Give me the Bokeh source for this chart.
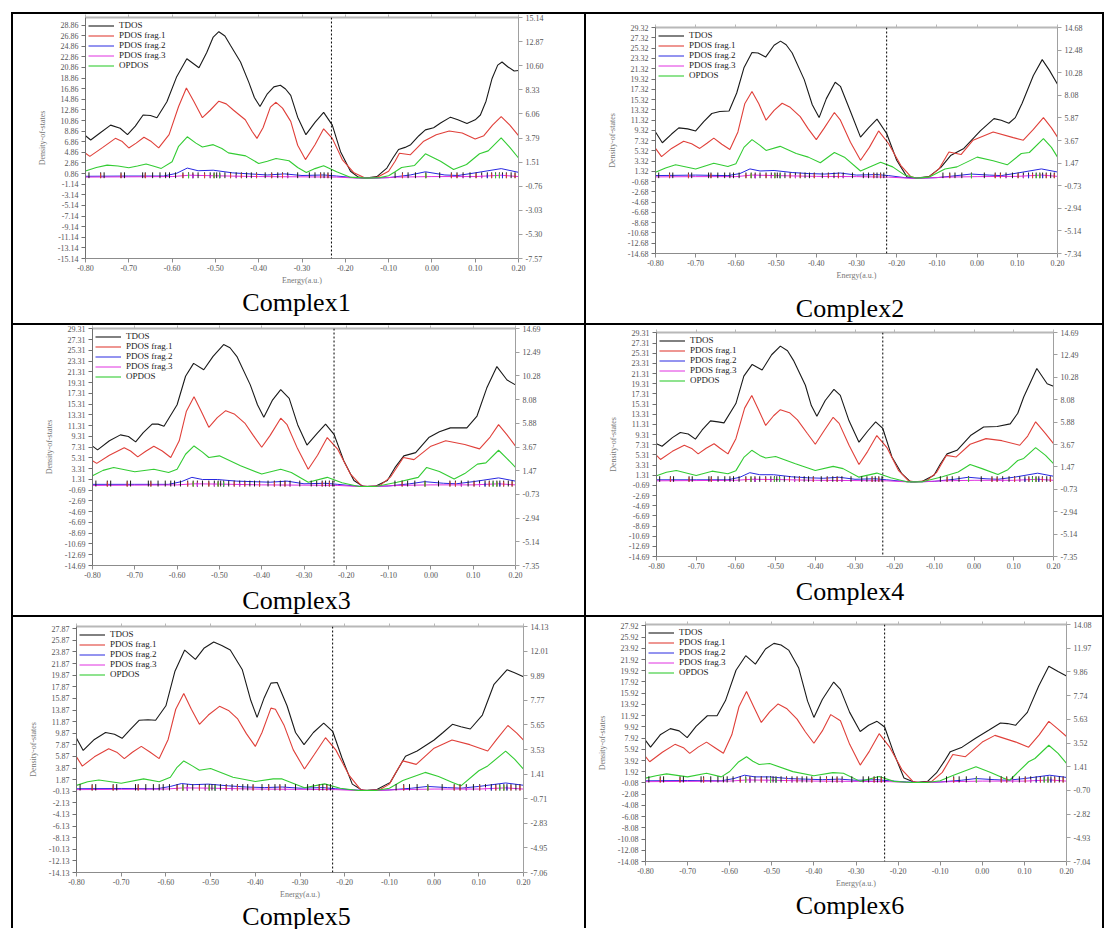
import numpy as np
from bokeh.plotting import figure
from bokeh.models import (Range1d, LinearAxis, FixedTicker, NumeralTickFormatter,
                          Span, Legend, LegendItem, ColumnDataSource, Div)
from bokeh.layouts import row, column
from bokeh.embed import file_html
from bokeh.resources import INLINE

# ------------------------------------------------------------------ data
LEGEND_LABELS = ["TDOS", "PDOS frag.1", "PDOS frag.2", "PDOS frag.3", "OPDOS"]
CAPTIONS = ["Complex1", "Complex2", "Complex3", "Complex4", "Complex5", "Complex6"]
X_TICKS = [-0.80, -0.70, -0.60, -0.50, -0.40, -0.30, -0.20, -0.10, 0.00, 0.10, 0.20]
LEFT_AXIS_MIN = [-15.14, -14.68, -14.69, -14.69, -14.13, -14.08]
RIGHT_LABELS = [
    ["-7.57", "-5.30", "-3.03", "-0.76", "1.51", "3.79", "6.06", "8.33", "10.60", "12.87", "15.14"],
    ["-7.34", "-5.14", "-2.94", "-0.73", "1.47", "3.67", "5.87", "8.08", "10.28", "12.48", "14.68"],
    ["-7.35", "-5.14", "-2.94", "-0.73", "1.47", "3.67", "5.88", "8.08", "10.28", "12.49", "14.69"],
    ["-7.35", "-5.14", "-2.94", "-0.73", "1.47", "3.67", "5.88", "8.08", "10.28", "12.49", "14.69"],
    ["-7.06", "-4.95", "-2.83", "-0.71", "1.41", "3.53", "5.65", "7.77", "9.89", "12.01", "14.13"],
    ["-7.04", "-4.93", "-2.82", "-0.70", "1.41", "3.52", "5.63", "7.74", "9.86", "11.97", "14.08"],
]
HOMO = [-0.232, -0.225, -0.229, -0.230, -0.227, -0.232]

C1_TDOS = [(-0.80, 8.0), (-0.788, 7.2), (-0.765, 8.6), (-0.742, 10.0), (-0.72, 9.4), (-0.703, 8.2),
           (-0.685, 9.8), (-0.667, 11.9), (-0.65, 11.8), (-0.635, 11.4), (-0.612, 14.4), (-0.59, 19.0),
           (-0.566, 22.5), (-0.538, 20.8), (-0.52, 23.7), (-0.505, 26.6), (-0.492, 27.6), (-0.478, 26.8),
           (-0.465, 25.0), (-0.442, 21.9), (-0.423, 18.1), (-0.41, 15.2), (-0.397, 13.5), (-0.38, 15.9),
           (-0.365, 17.2), (-0.35, 17.5), (-0.338, 16.8), (-0.326, 15.6), (-0.31, 11.5), (-0.291, 8.2),
           (-0.27, 10.5), (-0.25, 12.4), (-0.23, 10.0), (-0.211, 5.0), (-0.188, 1.3), (-0.17, 0.2),
           (-0.153, 0.0), (-0.127, 0.3), (-0.104, 1.9), (-0.09, 3.8), (-0.077, 5.4), (-0.062, 5.8),
           (-0.049, 6.3), (-0.03, 8.0), (-0.015, 9.1), (0.004, 9.5), (0.02, 10.4), (0.043, 11.5),
           (0.06, 11.0), (0.081, 10.3), (0.10, 11.0), (0.112, 11.9), (0.125, 14.5), (0.139, 18.8),
           (0.152, 21.3), (0.162, 21.9), (0.175, 21.0), (0.19, 20.2), (0.20, 20.3)]
C1_FRAG1 = [(-0.80, 4.7), (-0.79, 4.1), (-0.76, 5.8), (-0.731, 7.5), (-0.715, 6.9), (-0.70, 5.7),
            (-0.683, 6.6), (-0.665, 7.7), (-0.648, 6.9), (-0.631, 5.7), (-0.607, 8.2), (-0.585, 13.5),
            (-0.567, 17.0), (-0.55, 14.5), (-0.53, 11.4), (-0.512, 12.8), (-0.492, 14.5), (-0.475, 14.0),
            (-0.458, 12.8), (-0.431, 11.0), (-0.415, 8.8), (-0.404, 7.5), (-0.39, 9.5), (-0.373, 13.4),
            (-0.36, 14.3), (-0.345, 13.2), (-0.326, 10.7), (-0.31, 6.2), (-0.292, 3.5), (-0.27, 6.3),
            (-0.25, 9.3), (-0.23, 7.5), (-0.207, 3.5), (-0.18, 1.0), (-0.153, 0.0), (-0.125, 0.2),
            (-0.10, 1.3), (-0.085, 3.2), (-0.075, 4.7), (-0.05, 4.4), (-0.02, 6.9), (0.01, 8.2),
            (0.04, 8.9), (0.07, 8.5), (0.10, 7.4), (0.12, 8.0), (0.14, 10.0), (0.16, 11.6),
            (0.18, 10.0), (0.20, 8.0)]
C1_OPDOS = [(-0.80, 0.67), (-0.775, 1.0), (-0.75, 1.23), (-0.725, 1.15), (-0.70, 0.98), (-0.68, 1.15),
            (-0.66, 1.33), (-0.64, 1.1), (-0.625, 0.92), (-0.60, 1.54), (-0.585, 3.0), (-0.565, 3.9),
            (-0.545, 3.3), (-0.53, 2.94), (-0.505, 3.16), (-0.485, 2.8), (-0.47, 2.38), (-0.43, 2.1),
            (-0.40, 1.38), (-0.38, 1.6), (-0.36, 1.85), (-0.33, 1.64), (-0.31, 1.0), (-0.29, 0.54),
            (-0.27, 0.9), (-0.25, 1.17), (-0.22, 0.6), (-0.19, 0.1), (-0.15, 0.0), (-0.12, 0.05),
            (-0.10, 0.23), (-0.085, 0.6), (-0.07, 1.0), (-0.04, 1.2), (-0.015, 2.3), (0.02, 1.6),
            (0.05, 0.82), (0.08, 1.29), (0.11, 2.3), (0.13, 2.57), (0.16, 3.8), (0.18, 2.9), (0.20, 1.9)]

C2_TDOS = [(-0.80, 9.0), (-0.783, 6.9), (-0.76, 8.6), (-0.742, 9.8), (-0.72, 9.6), (-0.70, 9.2),
           (-0.68, 11.0), (-0.66, 12.6), (-0.64, 13.0), (-0.617, 13.1), (-0.598, 16.6), (-0.58, 21.5),
           (-0.56, 24.5), (-0.545, 24.4), (-0.526, 23.6), (-0.505, 25.9), (-0.489, 26.7), (-0.475, 26.0),
           (-0.46, 24.4), (-0.43, 19.2), (-0.41, 14.3), (-0.393, 11.8), (-0.375, 15.5), (-0.353, 18.7),
           (-0.34, 17.9), (-0.315, 13.0), (-0.29, 8.0), (-0.27, 9.8), (-0.249, 11.5), (-0.225, 8.7),
           (-0.20, 3.5), (-0.174, 0.2), (-0.15, 0.0), (-0.12, 0.3), (-0.09, 2.1), (-0.066, 4.4),
           (-0.033, 5.8), (0.008, 9.2), (0.042, 11.6), (0.06, 11.3), (0.079, 10.7), (0.095, 11.8),
           (0.112, 14.6), (0.14, 20.0), (0.162, 23.1), (0.18, 21.0), (0.20, 18.3)]
C2_FRAG1 = [(-0.80, 5.8), (-0.785, 4.2), (-0.76, 5.8), (-0.73, 7.2), (-0.71, 6.7), (-0.69, 5.8),
            (-0.672, 6.8), (-0.655, 7.8), (-0.635, 6.6), (-0.615, 5.6), (-0.595, 9.0), (-0.578, 14.5),
            (-0.56, 16.9), (-0.543, 14.5), (-0.525, 11.3), (-0.505, 13.2), (-0.485, 14.6), (-0.465, 13.8),
            (-0.44, 12.0), (-0.42, 9.6), (-0.40, 7.5), (-0.38, 9.8), (-0.355, 12.8), (-0.34, 11.3),
            (-0.315, 7.0), (-0.29, 3.5), (-0.268, 6.0), (-0.245, 9.2), (-0.22, 6.7), (-0.19, 2.5),
            (-0.165, 0.3), (-0.15, 0.0), (-0.12, 0.2), (-0.095, 1.8), (-0.07, 5.1), (-0.04, 4.6),
            (-0.01, 7.4), (0.04, 9.0), (0.09, 7.9), (0.115, 7.4), (0.14, 9.5), (0.165, 11.8),
            (0.185, 9.8), (0.20, 8.0)]
C2_OPDOS = [(-0.80, 0.58), (-0.775, 1.0), (-0.75, 1.3), (-0.70, 0.9), (-0.655, 1.46), (-0.62, 1.14),
            (-0.60, 1.4), (-0.58, 3.0), (-0.56, 3.76), (-0.54, 3.2), (-0.525, 2.7), (-0.49, 3.1),
            (-0.45, 2.4), (-0.42, 2.05), (-0.39, 1.5), (-0.355, 2.5), (-0.33, 2.05), (-0.29, 0.7),
            (-0.24, 1.56), (-0.21, 1.1), (-0.18, 0.3), (-0.15, 0.0), (-0.12, 0.1), (-0.08, 0.9),
            (-0.05, 1.1), (0.0, 2.05), (0.04, 1.7), (0.075, 1.3), (0.11, 2.4), (0.13, 2.5),
            (0.165, 3.86), (0.185, 3.0), (0.20, 2.05)]

C3_TDOS = [(-0.80, 7.5), (-0.788, 6.8), (-0.76, 8.5), (-0.734, 9.6), (-0.715, 9.3), (-0.698, 8.3),
           (-0.68, 10.0), (-0.659, 11.6), (-0.645, 11.6), (-0.631, 11.2), (-0.60, 15.2), (-0.58, 20.5),
           (-0.561, 22.9), (-0.537, 21.7), (-0.515, 24.2), (-0.49, 26.4), (-0.475, 25.8), (-0.458, 24.1),
           (-0.427, 18.9), (-0.41, 15.2), (-0.395, 12.9), (-0.375, 16.0), (-0.355, 18.0), (-0.335, 16.4),
           (-0.315, 11.5), (-0.293, 7.7), (-0.27, 9.8), (-0.249, 11.6), (-0.229, 9.7), (-0.206, 4.8),
           (-0.182, 1.1), (-0.16, 0.0), (-0.13, 0.1), (-0.103, 1.1), (-0.085, 3.5), (-0.064, 5.7),
           (-0.036, 6.3), (-0.005, 9.1), (0.02, 10.2), (0.046, 10.9), (0.085, 10.9), (0.109, 13.1),
           (0.132, 18.3), (0.156, 22.3), (0.18, 19.8), (0.20, 18.9)]
C3_FRAG1 = [(-0.80, 4.8), (-0.79, 4.3), (-0.76, 5.8), (-0.725, 7.2), (-0.71, 6.6), (-0.693, 5.5),
            (-0.675, 6.5), (-0.655, 7.5), (-0.635, 6.6), (-0.615, 5.4), (-0.595, 8.5), (-0.578, 14.0),
            (-0.56, 16.7), (-0.543, 14.0), (-0.525, 11.0), (-0.505, 12.8), (-0.485, 14.1), (-0.465, 13.5),
            (-0.44, 11.8), (-0.42, 9.5), (-0.40, 7.3), (-0.38, 9.5), (-0.355, 12.7), (-0.34, 11.5),
            (-0.315, 7.0), (-0.29, 3.2), (-0.268, 5.8), (-0.245, 9.1), (-0.22, 6.9), (-0.19, 2.3),
            (-0.165, 0.2), (-0.15, 0.0), (-0.12, 0.2), (-0.095, 1.8), (-0.065, 5.4), (-0.04, 5.0),
            (0.0, 7.5), (0.035, 8.5), (0.08, 7.8), (0.115, 7.0), (0.14, 9.2), (0.16, 11.5),
            (0.18, 9.6), (0.20, 7.5)]
C3_OPDOS = [(-0.80, 1.0), (-0.775, 1.5), (-0.75, 1.77), (-0.70, 1.37), (-0.655, 1.6), (-0.62, 1.3),
            (-0.60, 1.6), (-0.58, 3.0), (-0.56, 3.77), (-0.54, 3.2), (-0.525, 2.7), (-0.50, 2.85),
            (-0.45, 1.92), (-0.40, 1.16), (-0.355, 1.6), (-0.33, 1.3), (-0.29, 0.4), (-0.245, 0.85),
            (-0.21, 0.35), (-0.17, 0.0), (-0.13, 0.0), (-0.08, 0.4), (-0.03, 0.85), (-0.01, 1.77),
            (0.02, 1.4), (0.055, 0.7), (0.08, 1.2), (0.11, 2.08), (0.13, 2.2), (0.16, 3.37),
            (0.18, 2.6), (0.20, 1.77)]

C4_TDOS = [(-0.80, 7.5), (-0.786, 7.0), (-0.76, 8.7), (-0.74, 9.7), (-0.72, 9.4), (-0.702, 8.4),
           (-0.685, 10.2), (-0.664, 12.0), (-0.645, 11.8), (-0.63, 11.6), (-0.60, 15.4), (-0.58, 20.8),
           (-0.559, 23.1), (-0.534, 22.0), (-0.51, 25.0), (-0.488, 26.7), (-0.47, 25.8), (-0.455, 23.9),
           (-0.425, 19.0), (-0.41, 15.0), (-0.396, 12.9), (-0.375, 16.0), (-0.353, 18.2), (-0.337, 17.0),
           (-0.315, 12.0), (-0.29, 7.8), (-0.268, 10.0), (-0.248, 11.8), (-0.23, 10.5), (-0.207, 4.9),
           (-0.182, 1.6), (-0.16, 0.0), (-0.13, 0.1), (-0.101, 1.3), (-0.085, 3.5), (-0.068, 5.5),
           (-0.043, 6.2), (-0.009, 9.1), (0.024, 10.8), (0.058, 10.9), (0.091, 11.4), (0.11, 13.5),
           (0.125, 16.7), (0.158, 22.3), (0.184, 19.3), (0.20, 18.8)]
C4_FRAG1 = [(-0.80, 5.2), (-0.79, 4.4), (-0.76, 6.0), (-0.73, 7.2), (-0.71, 6.5), (-0.695, 5.5),
            (-0.675, 6.6), (-0.655, 7.5), (-0.64, 6.6), (-0.62, 5.5), (-0.60, 8.5), (-0.578, 14.5),
            (-0.56, 17.0), (-0.543, 14.2), (-0.525, 11.1), (-0.505, 13.0), (-0.488, 14.2), (-0.465, 13.6),
            (-0.445, 12.2), (-0.42, 9.5), (-0.40, 7.4), (-0.38, 9.8), (-0.355, 12.7), (-0.34, 11.5),
            (-0.315, 7.2), (-0.29, 3.4), (-0.268, 6.0), (-0.245, 9.1), (-0.22, 6.8), (-0.19, 2.2),
            (-0.165, 0.2), (-0.15, 0.0), (-0.12, 0.2), (-0.095, 1.8), (-0.07, 5.2), (-0.045, 4.9),
            (-0.01, 7.4), (0.03, 8.5), (0.07, 8.1), (0.115, 7.2), (0.135, 9.0), (0.155, 11.8),
            (0.18, 9.5), (0.20, 7.5)]
C4_OPDOS = [(-0.80, 0.6), (-0.775, 0.95), (-0.75, 1.12), (-0.70, 0.63), (-0.66, 1.05), (-0.62, 0.8),
            (-0.60, 1.1), (-0.58, 2.4), (-0.56, 3.1), (-0.54, 2.6), (-0.525, 2.34), (-0.50, 2.5),
            (-0.45, 1.78), (-0.40, 1.12), (-0.355, 1.52), (-0.33, 1.3), (-0.29, 0.46), (-0.245, 0.86),
            (-0.21, 0.4), (-0.17, 0.0), (-0.13, 0.0), (-0.08, 0.5), (-0.04, 0.96), (-0.01, 1.7),
            (0.02, 1.3), (0.06, 0.73), (0.085, 1.2), (0.11, 2.1), (0.125, 2.3), (0.155, 3.36),
            (0.18, 2.6), (0.20, 1.78)]

C5_TDOS = [(-0.80, 9.0), (-0.785, 6.9), (-0.76, 8.8), (-0.735, 10.0), (-0.715, 9.7), (-0.698, 9.0),
           (-0.68, 10.5), (-0.66, 12.1), (-0.64, 12.2), (-0.623, 12.1), (-0.60, 14.6), (-0.58, 20.5),
           (-0.558, 24.2), (-0.534, 22.6), (-0.515, 24.5), (-0.493, 25.6), (-0.475, 25.0), (-0.456, 24.2),
           (-0.429, 20.8), (-0.41, 15.5), (-0.396, 12.6), (-0.38, 16.0), (-0.365, 18.5), (-0.351, 18.6),
           (-0.329, 14.6), (-0.31, 10.0), (-0.291, 7.9), (-0.27, 10.0), (-0.247, 11.6), (-0.227, 10.2),
           (-0.206, 5.6), (-0.183, 1.1), (-0.16, 0.0), (-0.13, 0.1), (-0.098, 1.4), (-0.08, 3.8),
           (-0.064, 5.9), (-0.038, 6.8), (0.0, 8.7), (0.02, 10.0), (0.041, 11.4), (0.06, 11.0),
           (0.081, 10.6), (0.108, 13.0), (0.134, 18.3), (0.163, 20.8), (0.18, 20.3), (0.20, 19.6)]
C5_FRAG1 = [(-0.80, 5.8), (-0.787, 4.2), (-0.76, 5.8), (-0.728, 7.2), (-0.71, 6.6), (-0.693, 5.5),
            (-0.675, 6.6), (-0.655, 7.6), (-0.635, 6.6), (-0.615, 5.5), (-0.595, 8.8), (-0.578, 14.0),
            (-0.56, 16.7), (-0.543, 14.0), (-0.525, 11.4), (-0.505, 13.0), (-0.48, 14.5), (-0.46, 13.8),
            (-0.44, 12.4), (-0.42, 9.8), (-0.40, 7.6), (-0.385, 10.0), (-0.365, 14.2), (-0.355, 14.0),
            (-0.336, 11.3), (-0.315, 7.0), (-0.29, 3.7), (-0.268, 6.2), (-0.243, 9.1), (-0.22, 7.0),
            (-0.19, 2.6), (-0.165, 0.2), (-0.15, 0.0), (-0.12, 0.2), (-0.10, 1.1), (-0.085, 3.2),
            (-0.07, 5.1), (-0.04, 4.5), (0.0, 7.3), (0.04, 8.7), (0.08, 7.9), (0.12, 6.8),
            (0.14, 8.8), (0.165, 11.2), (0.185, 9.9), (0.20, 8.7)]
C5_OPDOS = [(-0.80, 0.44), (-0.775, 0.75), (-0.75, 0.91), (-0.70, 0.63), (-0.65, 1.0), (-0.615, 0.76),
            (-0.59, 1.14), (-0.575, 2.0), (-0.56, 2.55), (-0.54, 2.1), (-0.525, 1.75), (-0.50, 1.9),
            (-0.45, 1.14), (-0.40, 0.78), (-0.36, 1.0), (-0.34, 1.0), (-0.29, 0.24), (-0.245, 0.57),
            (-0.21, 0.2), (-0.17, 0.0), (-0.13, 0.0), (-0.10, 0.2), (-0.07, 0.86), (-0.02, 1.56),
            (0.01, 1.2), (0.04, 0.72), (0.06, 0.4), (0.10, 1.7), (0.12, 2.12), (0.16, 3.39),
            (0.18, 2.7), (0.20, 1.84)]

C6_TDOS = [(-0.80, 7.5), (-0.788, 6.3), (-0.765, 8.5), (-0.741, 9.6), (-0.72, 9.2), (-0.701, 8.0),
           (-0.68, 10.0), (-0.653, 11.9), (-0.63, 11.9), (-0.61, 14.6), (-0.585, 20.0), (-0.562, 22.6),
           (-0.539, 21.1), (-0.515, 23.8), (-0.495, 24.8), (-0.478, 24.5), (-0.46, 23.6), (-0.436, 20.4),
           (-0.415, 14.5), (-0.40, 11.6), (-0.38, 14.8), (-0.353, 17.9), (-0.337, 16.6), (-0.315, 12.5),
           (-0.29, 9.1), (-0.27, 10.2), (-0.25, 10.9), (-0.232, 9.9), (-0.21, 5.2), (-0.186, 0.8),
           (-0.16, 0.0), (-0.13, 0.2), (-0.109, 1.7), (-0.09, 3.8), (-0.076, 5.5), (-0.048, 6.3),
           (-0.016, 7.9), (0.015, 9.3), (0.043, 10.6), (0.06, 10.5), (0.079, 10.2), (0.107, 12.5),
           (0.134, 17.2), (0.158, 20.7), (0.18, 19.8), (0.20, 19.0)]
C6_FRAG1 = [(-0.80, 4.6), (-0.79, 3.7), (-0.76, 5.4), (-0.73, 6.8), (-0.71, 6.2), (-0.695, 5.2),
            (-0.675, 6.3), (-0.655, 7.2), (-0.635, 6.2), (-0.615, 5.2), (-0.595, 8.5), (-0.578, 13.5),
            (-0.56, 16.2), (-0.543, 13.5), (-0.525, 10.7), (-0.505, 12.6), (-0.485, 14.0), (-0.465, 13.2),
            (-0.44, 11.3), (-0.42, 9.0), (-0.40, 7.0), (-0.38, 9.2), (-0.36, 12.1), (-0.337, 11.0),
            (-0.315, 6.8), (-0.29, 3.1), (-0.268, 5.6), (-0.245, 8.7), (-0.22, 6.3), (-0.19, 2.2),
            (-0.165, 0.2), (-0.15, 0.0), (-0.12, 0.2), (-0.095, 1.8), (-0.07, 5.0), (-0.04, 4.6),
            (0.0, 7.2), (0.03, 8.4), (0.08, 7.2), (0.11, 6.3), (0.135, 8.5), (0.158, 10.9),
            (0.18, 9.5), (0.20, 8.2)]
C6_OPDOS = [(-0.80, 0.39), (-0.775, 0.6), (-0.75, 0.77), (-0.70, 0.5), (-0.655, 0.83), (-0.62, 0.5),
            (-0.60, 0.98), (-0.58, 1.8), (-0.56, 2.29), (-0.545, 1.9), (-0.53, 1.6), (-0.505, 1.7),
            (-0.45, 0.97), (-0.40, 0.6), (-0.355, 0.88), (-0.33, 0.83), (-0.29, 0.1), (-0.245, 0.53),
            (-0.21, 0.1), (-0.17, 0.0), (-0.13, 0.0), (-0.10, 0.15), (-0.07, 0.62), (-0.015, 1.41),
            (0.02, 0.9), (0.05, 0.39), (0.065, 0.2), (0.11, 1.85), (0.125, 2.14), (0.158, 3.32),
            (0.18, 2.6), (0.20, 1.7)]

FRAG2_E = [-0.80, -0.70, -0.62, -0.59, -0.565, -0.54, -0.505, -0.46, -0.42, -0.38, -0.34, -0.30,
           -0.25, -0.22, -0.18, -0.15, -0.10, -0.05, -0.015, 0.03, 0.06, 0.10, 0.16, 0.20]
C1_FRAG2 = [0.35, 0.4, 0.4, 0.9, 1.9, 1.4, 1.5, 1.0, 0.8, 0.6, 0.8, 0.5, 0.6, 0.4, 0.1, 0.0, 0.1, 0.6, 1.2, 0.6, 0.5, 1.0, 1.8, 1.1]
C2_FRAG2 = [0.5, 0.6, 0.5, 0.9, 1.8, 1.4, 1.5, 1.1, 0.9, 0.8, 1.0, 0.6, 0.7, 0.5, 0.1, 0.0, 0.1, 0.5, 0.8, 0.6, 0.5, 1.0, 1.8, 1.2]
C3_FRAG2 = [0.4, 0.4, 0.4, 0.9, 1.7, 1.3, 1.3, 1.0, 0.9, 0.8, 1.0, 0.5, 0.6, 0.4, 0.1, 0.0, 0.1, 0.5, 0.9, 0.6, 0.5, 0.9, 1.6, 1.0]
C4_FRAG2 = [0.4, 0.4, 0.4, 0.9, 1.8, 1.4, 1.4, 1.0, 0.8, 0.7, 0.9, 0.5, 0.6, 0.4, 0.1, 0.0, 0.1, 0.5, 0.9, 0.6, 0.5, 0.9, 1.7, 1.1]
C5_FRAG2 = [0.3, 0.35, 0.3, 0.7, 1.2, 1.0, 1.1, 0.8, 0.6, 0.5, 0.6, 0.4, 0.5, 0.3, 0.1, 0.0, 0.1, 0.4, 0.7, 0.5, 0.4, 0.7, 1.3, 0.9]
C6_FRAG2 = [0.3, 0.35, 0.3, 0.7, 1.3, 1.0, 1.0, 0.7, 0.6, 0.5, 0.6, 0.4, 0.5, 0.3, 0.1, 0.0, 0.1, 0.4, 0.7, 0.5, 0.4, 0.7, 1.3, 0.9]

FRAG3_E = [-0.80, -0.70, -0.60, -0.56, -0.50, -0.40, -0.30, -0.22, -0.17, -0.13, -0.08, 0.00, 0.10, 0.16, 0.20]
C1_FRAG3 = [0.2, 0.25, 0.3, 0.55, 0.45, 0.3, 0.25, 0.2, 0.0, 0.0, 0.2, 0.3, 0.3, 0.55, 0.3]
C2_FRAG3 = [0.25, 0.3, 0.3, 0.6, 0.5, 0.35, 0.3, 0.2, 0.0, 0.0, 0.2, 0.3, 0.35, 0.6, 0.35]
C3_FRAG3 = [0.2, 0.25, 0.3, 0.5, 0.45, 0.3, 0.25, 0.2, 0.0, 0.0, 0.2, 0.3, 0.3, 0.5, 0.3]
C4_FRAG3 = [0.2, 0.25, 0.3, 0.5, 0.45, 0.3, 0.25, 0.2, 0.0, 0.0, 0.2, 0.3, 0.3, 0.5, 0.3]
C5_FRAG3 = [0.15, 0.2, 0.25, 0.45, 0.4, 0.25, 0.2, 0.15, 0.0, 0.0, 0.15, 0.25, 0.25, 0.45, 0.25]
C6_FRAG3 = [0.15, 0.2, 0.25, 0.45, 0.4, 0.25, 0.2, 0.15, 0.0, 0.0, 0.15, 0.25, 0.25, 0.45, 0.25]

# discrete orbital levels (sticks at the bottom)
MO_TDOS = [-0.792, -0.765, -0.757, -0.718, -0.71, -0.668, -0.662, -0.645, -0.628, -0.615, -0.606,
           -0.592, -0.575, -0.562, -0.552, -0.54, -0.525, -0.512, -0.503, -0.497, -0.49, -0.478,
           -0.465, -0.452, -0.44, -0.428, -0.417, -0.405, -0.385, -0.37, -0.356, -0.345, -0.333,
           -0.31, -0.283, -0.27, -0.257, -0.249, -0.24, -0.232, -0.085, -0.068, -0.055, -0.038,
           -0.014, 0.018, 0.045, 0.058, 0.072, 0.088, 0.102, 0.115, 0.128, 0.138, 0.147, 0.156,
           0.163, 0.172, 0.183, 0.192]
MO_FRAG1 = [-0.765, -0.718, -0.662, -0.575, -0.562, -0.552, -0.525, -0.503, -0.49, -0.465, -0.44,
            -0.405, -0.37, -0.345, -0.257, -0.24, -0.068, -0.014, 0.045, 0.058, 0.102, 0.138,
            0.156, 0.172, 0.192]
MO_FRAG2 = [-0.552, -0.49, 0.128, 0.163]
MO_FRAG3 = [-0.552, -0.512, -0.452, -0.333, 0.072, 0.115]
MO_OPDOS = [-0.562, -0.503, -0.49, -0.014, 0.147, 0.156]

TDOS = [C1_TDOS, C2_TDOS, C3_TDOS, C4_TDOS, C5_TDOS, C6_TDOS]
FRAG1 = [C1_FRAG1, C2_FRAG1, C3_FRAG1, C4_FRAG1, C5_FRAG1, C6_FRAG1]
OPDOS = [C1_OPDOS, C2_OPDOS, C3_OPDOS, C4_OPDOS, C5_OPDOS, C6_OPDOS]
FRAG2 = [C1_FRAG2, C2_FRAG2, C3_FRAG2, C4_FRAG2, C5_FRAG2, C6_FRAG2]
FRAG3 = [C1_FRAG3, C2_FRAG3, C3_FRAG3, C4_FRAG3, C5_FRAG3, C6_FRAG3]

# ------------------------------------------------------------------ layout / style
SERIF = "Liberation Serif"
COLORS = {"TDOS": "#1a1a1a", "F1": "#e0403a", "F2": "#2828e0", "F3": "#e030e0", "OP": "#33cc33"}

# cell geometry (pixels): cell w/h, figure height, min borders, caption shift
GEOM = [
    dict(w=571, h=309, fh=273, left=72, right=66, top=2, bottom=29, dx=-2, xlabel=True),
    dict(w=516, h=309, fh=279, left=69, right=45, top=13, bottom=40, dx=6, xlabel=True),
    dict(w=571, h=290, fh=260, left=79, right=69, top=3, bottom=20, dx=-2, xlabel=False),
    dict(w=516, h=290, fh=251, left=70, right=49, top=7, bottom=20, dx=6, xlabel=False),
    dict(w=571, h=311, fh=284, left=63, right=61, top=9, bottom=24, dx=-2, xlabel=True),
    dict(w=516, h=311, fh=273, left=59, right=36, top=7, bottom=27, dx=6, xlabel=True),
]


def style_axis(ax, tick_out, color="#8c8c8c"):
    ax.axis_line_color = color
    ax.major_tick_line_color = color
    ax.minor_tick_line_color = None
    ax.major_tick_out = tick_out
    ax.major_tick_in = 0
    ax.major_label_text_font = SERIF
    ax.major_label_text_font_size = "8px"
    ax.major_label_text_color = "#555555"
    ax.major_label_standoff = 3
    ax.axis_label_text_font = SERIF
    ax.axis_label_text_font_size = "8px"
    ax.axis_label_text_color = "#777777"
    ax.axis_label_text_font_style = "normal"


def unzip(pairs):
    return [p[0] for p in pairs], [p[1] for p in pairs]


def make_panel(i):
    g = GEOM[i]
    lo = LEFT_AXIS_MIN[i]
    p = figure(width=g["w"], height=g["fh"], x_range=Range1d(-0.8, 0.2),
               y_range=Range1d(lo, -2 * lo), output_backend="svg", toolbar_location=None,
               min_border_left=g["left"], min_border_right=g["right"],
               min_border_top=g["top"], min_border_bottom=g["bottom"],
               background_fill_color="white", border_fill_color="white")
    if "frame_align" in p.properties():
        p.frame_align = False
    p.outline_line_color = None
    p.grid.visible = False
    p.extra_y_ranges = {"r": Range1d(lo / 2, -lo)}

    # axes
    xa = p.xaxis[0]
    style_axis(xa, 4)
    xa.major_label_standoff = 2
    xa.ticker = FixedTicker(ticks=X_TICKS)
    xa.formatter = NumeralTickFormatter(format="0.00")
    if g["xlabel"]:
        xa.axis_label = "Energy(a.u.)"
    xa.axis_label_standoff = 2

    ya = p.yaxis[0]
    style_axis(ya, 4, "#707070")
    left_ticks = [lo + 2 * k for k in range(int((-3 * lo) // 2) + 1)]
    ya.ticker = FixedTicker(ticks=left_ticks)
    ya.formatter = NumeralTickFormatter(format="0.00")
    ya.axis_label = "Density-of-states"
    ya.axis_label_standoff = 8

    rpos = list(np.linspace(lo / 2, -lo, 11))
    ra = LinearAxis(y_range_name="r", ticker=FixedTicker(ticks=rpos),
                    major_label_overrides={float(v): s for v, s in zip(rpos, RIGHT_LABELS[i])})
    style_axis(ra, 4, "#a0a0a0")
    p.add_layout(ra, "right")

    ta = LinearAxis(ticker=FixedTicker(ticks=X_TICKS))
    style_axis(ta, 3, "#b8b8b8")
    ta.axis_line_width = 2
    ta.major_label_text_font_size = "0px"
    ta.major_label_text_color = None
    ta.major_label_standoff = 0
    p.add_layout(ta, "above")

    # curves
    ex, ey = unzip(TDOS[i])
    r_t = p.line(ex, ey, line_color=COLORS["TDOS"], line_width=1.1)
    ex, ey = unzip(FRAG1[i])
    r_1 = p.line(ex, ey, line_color=COLORS["F1"], line_width=1.1)
    r_2 = p.line(FRAG2_E, FRAG2[i], line_color=COLORS["F2"], line_width=1.0)
    r_3 = p.line(FRAG3_E, FRAG3[i], line_color=COLORS["F3"], line_width=1.0)
    ex, ey = unzip(OPDOS[i])
    r_o = p.line(ex, ey, line_color=COLORS["OP"], line_width=1.1, y_range_name="r")

    # orbital sticks
    for levels, col, h, rn in [(MO_TDOS, COLORS["TDOS"], 1.1, "default"),
                               (MO_FRAG1, COLORS["F1"], 0.9, "default"),
                               (MO_FRAG2, COLORS["F2"], 0.7, "default"),
                               (MO_FRAG3, COLORS["F3"], 0.6, "default"),
                               (MO_OPDOS, COLORS["OP"], 0.45, "r")]:
        src = ColumnDataSource(dict(x=levels, y0=[0.0] * len(levels), y1=[h] * len(levels)))
        p.segment(x0="x", y0="y0", x1="x", y1="y1", source=src, line_color=col,
                  line_width=1, y_range_name=rn)

    # HOMO line
    p.add_layout(Span(location=HOMO[i], dimension="height", line_color="black",
                      line_dash="2 2", line_width=1))

    # legend
    items = [LegendItem(label=l, renderers=[r]) for l, r in zip(LEGEND_LABELS, [r_t, r_1, r_2, r_3, r_o])]
    leg = Legend(items=items, location="top_left", margin=3, padding=7, spacing=0,
                 glyph_width=26, glyph_height=9, label_height=9, label_standoff=5,
                 label_text_font=SERIF, label_text_font_size="9px", label_text_color="#222222",
                 border_line_color=None, background_fill_alpha=0)
    p.add_layout(leg)
    return p


def caption(i):
    g = GEOM[i]
    html = ('<div style="display:block;width:%dpx;font-family:\'Liberation Serif\',serif;'
            'font-size:26px;line-height:26px;text-align:center;color:black;white-space:nowrap;'
            'position:relative;left:%dpx;top:3px;">%s</div>'
            % (g["w"], g["dx"], CAPTIONS[i]))
    return Div(text=html, width=g["w"], height=g["h"] - g["fh"], margin=0,
               styles={"text-align": "center", "overflow": "visible"})


def cell(i):
    return column(make_panel(i), caption(i), spacing=0)


def hline(w):
    return Div(text="", width=w, height=2, margin=0, styles={"background-color": "black"})


def vline(h):
    return Div(text="", width=2, height=h, margin=0, styles={"background-color": "black"})


TABLE_W = 2 + GEOM[0]["w"] + 2 + GEOM[1]["w"] + 2
rows = []
for r in range(3):
    h = GEOM[2 * r]["h"]
    rows.append(hline(TABLE_W))
    rows.append(row(vline(h), cell(2 * r), vline(h), cell(2 * r + 1), vline(h), spacing=0))
table = column(*rows, spacing=0)

layout = column(Div(text="", width=TABLE_W + 11, height=12, margin=0),
                row(Div(text="", width=11, height=1, margin=0), table, spacing=0),
                spacing=0)

open("out.html", "w").write(file_html(layout, INLINE))
